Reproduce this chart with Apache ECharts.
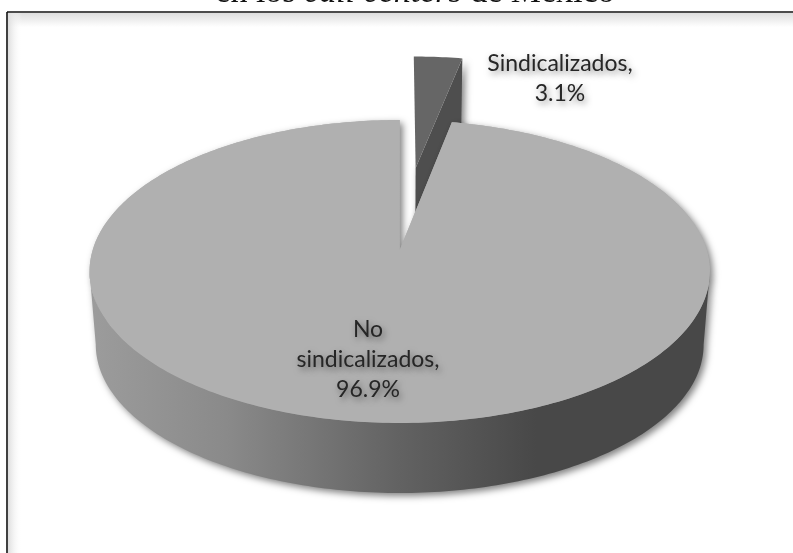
<!DOCTYPE html>
<html><head><meta charset="utf-8">
<style>html,body{margin:0;padding:0;background:#fff}#c{width:793px;height:553px}</style>
<script src="https://cdn.jsdelivr.net/npm/echarts@6/dist/echarts.min.js"></script>
</head><body><div id="c"></div>
<script>
var categories = ['Sindicalizados', 'No sindicalizados'];
var shares = [3.1, 96.9];
var categoryLabels = ['Sindicalizados,', 'No\nsindicalizados,'];
var titleText = ['en los ', 'call centers', ' de México'];

var chart = echarts.init(document.getElementById('c'), null, {renderer:'canvas'});
var total = shares.reduce(function(a,b){return a+b;},0);

// tilted-disc perspective (circle → homography)
var CX=399.7, CY=250, A=307, B=148.4, K=0.142, BOT_S=0.98, BOT_CY=323.5;
function proj(u,v,bottom){
  var w=1-K*v;
  return bottom ? [CX+BOT_S*A*u/w, BOT_CY+BOT_S*B*v/w] : [CX+A*u/w, CY+B*v/w];
}
function arc(a0,a1,ou,ov,bottom){
  var pts=[], n=Math.max(2,Math.ceil(Math.abs(a1-a0)*60));
  for(var i=0;i<=n;i++){
    var t=a0+(a1-a0)*i/n;
    pts.push(proj(ou+Math.sin(t),ov-Math.cos(t),bottom));
  }
  return pts;
}
var SHADOW={shadowBlur:7,shadowOffsetX:3,shadowOffsetY:3,shadowColor:'rgba(0,0,0,0.5)'};
var TXT={fontFamily:'Lato',fontSize:23,fill:'#262626',align:'center',verticalAlign:'middle',lineHeight:30,
  textShadowBlur:6,textShadowOffsetX:2,textShadowOffsetY:3,textShadowColor:'rgba(0,0,0,0.45)'};

function renderItem(params,api){
  var idx=params.dataIndex, val=api.value(0), start=0;
  for(var i=0;i<idx;i++) start+=shares[i];
  var a0=start/total*2*Math.PI, a1=(start+val)/total*2*Math.PI, children=[];
  var pct=val.toFixed(1)+'%';
  if(idx===0){
    var ou=0.0563, ov=-0.60;
    var top=[proj(ou,ov,false)].concat(arc(a0,a1,ou,ov,false));
    var far=proj(ou+Math.sin(a1),ov-Math.cos(a1),false);
    var farB=proj(ou+Math.sin(a1),ov-Math.cos(a1),true);
    var apex=proj(ou,ov,false), apexB=proj(ou,ov,true);
    children.push({type:'polygon',shape:{points:[apex,far,farB,apexB]},
      style:Object.assign({fill:'#4e4e4e'},SHADOW)});
    children.push({type:'polygon',shape:{points:top},style:{fill:'#666666'}});
    children.push({type:'text',z2:10,style:Object.assign({x:560,y:79,text:categoryLabels[idx]+'\n'+pct},TXT)});
  } else {
    var ext=Math.asin(Math.sqrt(1-K*K));
    var startW=Math.PI-ext, endW=Math.PI+ext;
    var pie=[proj(0,0,false)].concat(arc(a0,a1,0,0,false));
    // shadowed top first so its shadow only falls on the background, then the wall, then a clean top
    children.push({type:'polygon',shape:{points:pie},
      style:Object.assign({fill:'#b0b0b0'},SHADOW)});
    var wall=arc(startW,endW,0,0,false).concat(arc(endW,startW,0,0,true));
    children.push({type:'polygon',shape:{points:wall},
      style:Object.assign({fill:new echarts.graphic.LinearGradient(0,0,1,0,[
        {offset:0,color:'#9c9c9c'},{offset:0.22,color:'#8a8a8a'},{offset:0.5,color:'#626262'},
        {offset:0.72,color:'#484848'},{offset:1,color:'#484848'}])},SHADOW)});
    children.push({type:'polygon',shape:{points:pie},style:{fill:'#b0b0b0'}});
    children.push({type:'text',z2:10,style:Object.assign({x:368,y:360,text:categoryLabels[idx]+'\n'+pct},TXT)});
  }
  return {type:'group',children:children};
}

chart.setOption({
  animation:false,
  backgroundColor:'#fff',
  graphic:[
    {type:'text',z:5,x:415,y:10,style:{text:'{a|'+titleText[0]+'}{b|'+titleText[1]+'}{a|'+titleText[2]+'}',
      rich:{a:{fontFamily:'Liberation Serif',fontSize:34,fill:'#111'},
            b:{fontFamily:'Liberation Serif',fontStyle:'italic',fontSize:34,fill:'#111'}},
      align:'center',verticalAlign:'bottom'}},
    {type:'rect',z:-2,shape:{x:8,y:13,width:785,height:14},style:{fill:new echarts.graphic.LinearGradient(0,0,0,1,[{offset:0,color:'#dedede'},{offset:1,color:'#ffffff'}])}},
    {type:'rect',z:-2,shape:{x:8,y:13,width:14,height:540},style:{fill:new echarts.graphic.LinearGradient(0,0,1,0,[{offset:0,color:'#dedede'},{offset:1,color:'rgba(255,255,255,0)'}])}},
    {type:'line',z:1,shape:{x1:7,y1:12,x2:793,y2:12},style:{stroke:'#111',lineWidth:1.6}},
    {type:'line',z:1,shape:{x1:7,y1:12,x2:7,y2:553},style:{stroke:'#111',lineWidth:1.6}}
  ],
  series:[{
    type:'custom',coordinateSystem:'none',renderItem:renderItem,
    data:categories.map(function(c,i){return {name:c,value:[shares[i]]};})
  }]
});
</script></body></html>
